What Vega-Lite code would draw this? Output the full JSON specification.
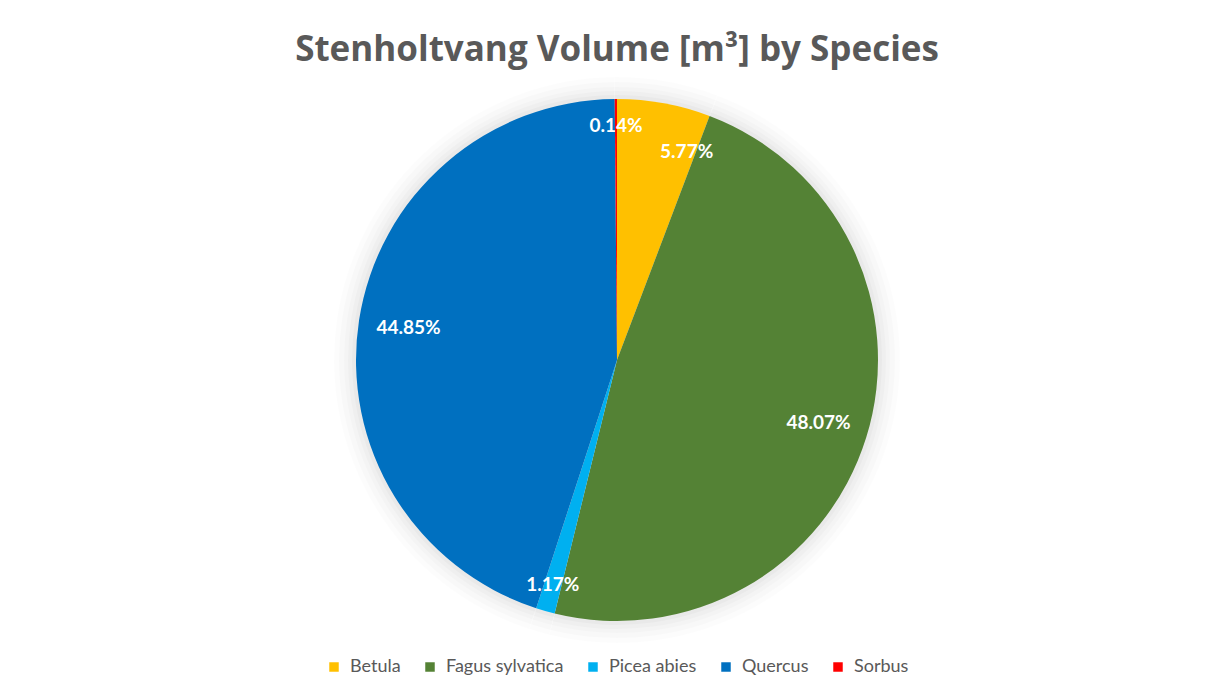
{
  "$schema": "https://vega.github.io/schema/vega-lite/v6.json",
  "autosize": {"type": "none"},
  "width": 1218,
  "height": 540,
  "padding": {"left": 8, "top": 90, "right": 0, "bottom": 67},
  "background": "white",
  "title": {
    "text": "Stenholtvang Volume [m³] by Species",
    "font": "Open Sans",
    "fontSize": 35,
    "fontWeight": "bold",
    "color": "#595959",
    "anchor": "middle",
    "frame": "group",
    "offset": 9
  },
  "data": {
    "values": [
      {"species": "Betula", "share": 0.0577},
      {"species": "Fagus sylvatica", "share": 0.4807},
      {"species": "Picea abies", "share": 0.0117},
      {"species": "Quercus", "share": 0.4485},
      {"species": "Sorbus", "share": 0.0014}
    ]
  },
  "encoding": {
    "theta": {"field": "share", "type": "quantitative", "stack": true},
    "order": {"field": "species", "type": "nominal", "sort": "ascending"}
  },
  "layer": [
    {"mark": {"type": "arc", "outerRadius": 283, "fill": "#000000", "fillOpacity": 0.012, "strokeWidth": 0}},
    {"mark": {"type": "arc", "outerRadius": 278, "fill": "#000000", "fillOpacity": 0.014, "strokeWidth": 0}},
    {"mark": {"type": "arc", "outerRadius": 273, "fill": "#000000", "fillOpacity": 0.016, "strokeWidth": 0}},
    {"mark": {"type": "arc", "outerRadius": 269, "fill": "#000000", "fillOpacity": 0.02, "strokeWidth": 0}},
    {"mark": {"type": "arc", "outerRadius": 265, "fill": "#000000", "fillOpacity": 0.025, "strokeWidth": 0}},
    {
      "mark": {"type": "arc", "outerRadius": 261},
      "encoding": {
        "color": {
          "field": "species",
          "type": "nominal",
          "scale": {
            "domain": ["Betula", "Fagus sylvatica", "Picea abies", "Quercus", "Sorbus"],
            "range": ["#FFC000", "#548235", "#00B0F0", "#0070C0", "#FF0000"]
          },
          "legend": {
            "orient": "bottom",
            "direction": "horizontal",
            "title": null,
            "symbolType": "square",
            "symbolSize": 90,
            "symbolStrokeWidth": 0,
            "labelFont": "Lato",
            "labelFontSize": 18,
            "labelColor": "#595959",
            "labelOffset": 7,
            "columnPadding": 20,
            "offset": 28
          }
        }
      }
    },
    {
      "mark": {
        "type": "text",
        "radius": 211,
        "font": "Lato",
        "fontSize": 19,
        "fontWeight": "bold",
        "fill": "white"
      },
      "encoding": {
        "text": {
          "condition": {"test": "datum.share < 0.1", "value": ""},
          "field": "share",
          "type": "quantitative",
          "format": ".2%"
        }
      }
    },
    {
      "mark": {
        "type": "text",
        "radius": 234,
        "font": "Lato",
        "fontSize": 19,
        "fontWeight": "bold",
        "fill": "white"
      },
      "encoding": {
        "text": {
          "condition": {"test": "datum.share > 0.03", "value": ""},
          "field": "share",
          "type": "quantitative",
          "format": ".2%"
        }
      }
    },
    {
      "mark": {
        "type": "text",
        "radius": 220,
        "dx": 30,
        "dy": 8,
        "font": "Lato",
        "fontSize": 19,
        "fontWeight": "bold",
        "fill": "white"
      },
      "encoding": {
        "text": {
          "condition": {"test": "datum.species !== 'Betula'", "value": ""},
          "field": "share",
          "type": "quantitative",
          "format": ".2%"
        }
      }
    }
  ],
  "config": {
    "view": {"stroke": null},
    "legend": {"layout": {"bottom": {"anchor": "middle"}}}
  }
}
